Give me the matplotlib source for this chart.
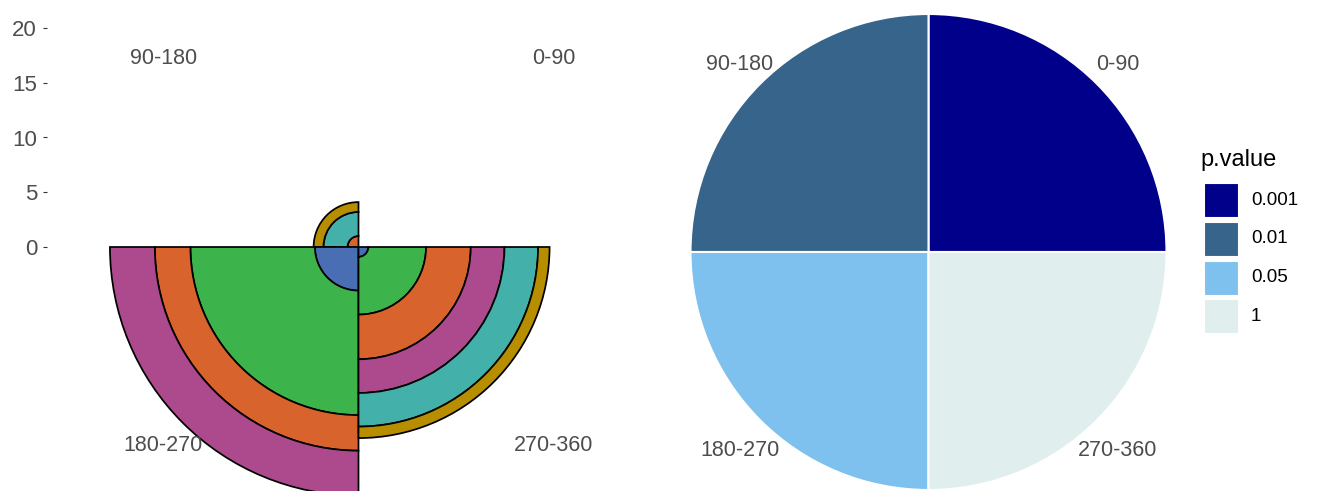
import matplotlib.pyplot as plt
from matplotlib.patches import Wedge, Rectangle
import numpy as np

plt.rcParams['font.family'] = ['Liberation Sans', 'DejaVu Sans']

# angular sectors (degrees, counter-clockwise from east)
sectors = ['0-90', '90-180', '180-270', '270-360']
angle_lo = [0, 90, 180, 270]
angle_hi = [90, 180, 270, 360]

# stacked radial layers per sector, innermost first
blue = [0, 0, 3.98, 0.9]
green = [0, 0, 11.37, 5.27]
orange = [0, 1.0, 3.25, 4.08]
purple = [0, 0, 4.1, 3.08]
teal = [0, 2.2, 0, 3.07]
gold = [0, 0.9, 0, 1.05]
layers = [blue, green, orange, purple, teal, gold]
layer_colors = ['#4a6eb4', '#3cb44b', '#d9632d', '#ad4a8d', '#43b1a9', '#b68e00']

# p-value per sector
pvals = [0.001, 0.01, 0.05, 1]
p_levels = ['0.001', '0.01', '0.05', '1']
p_colors = ['#00008B', '#36648B', '#7EC0EE', '#E0EEEE']

W, H = 1318, 491
fig = plt.figure(figsize=(W / 100, H / 100), dpi=100)
axis_grey = '#4d4d4d'

# ---- left: stacked polar bars ----
ppu = 10.95          # pixels per radial unit
cx, cy = 358.5, 247  # centre in figure pixels (from top)
x0, x1 = 47, 670
ax = fig.add_axes([x0 / W, 0, (x1 - x0) / W, 1])
ax.set_xlim((x0 - cx) / ppu, (x1 - cx) / ppu)
ax.set_ylim(-(H - cy) / ppu, cy / ppu)

for i in range(len(sectors)):
    base = 0
    for vals, col in zip(layers, layer_colors):
        h = vals[i]
        if h <= 0:
            continue
        ax.add_patch(Wedge((0, 0), base + h, angle_lo[i], angle_hi[i], width=h,
                           facecolor=col, edgecolor='black', linewidth=1.25))
        base += h

lab_rx, lab_ry = 25.2, 25.0
drop = 0.44
for s, lo, hi in zip(sectors, angle_lo, angle_hi):
    a = np.deg2rad((lo + hi) / 2)
    ax.text(lab_rx * np.cos(a), lab_ry * np.sin(a) - drop, s, ha='center', va='center',
            fontsize=15.5, color=axis_grey)

ax.set_yticks([0, 5, 10, 15, 20])
ax.set_xticks([])
ax.tick_params(axis='y', length=2.9, width=0.8, color='#333333', labelcolor=axis_grey,
               labelsize=16, pad=4.3)
for sp in ax.spines.values():
    sp.set_visible(False)

# ---- right: pie coloured by p-value ----
R = 238.0
pcx, pcy = 928.5, 252
px0, px1 = 680, 1180
ax2 = fig.add_axes([px0 / W, 0, (px1 - px0) / W, 1])
sizes = [hi - lo for lo, hi in zip(angle_lo, angle_hi)]
col_of = dict(zip(pvals, p_colors))
ax2.pie(sizes, colors=[col_of[p] for p in pvals], startangle=angle_lo[0], counterclock=True,
        radius=1, wedgeprops=dict(edgecolor='white', linewidth=1.5))
ax2.set_aspect('auto')
ax2.set_xlim((px0 - pcx) / R, (px1 - pcx) / R)
ax2.set_ylim(-(H - pcy) / R, pcy / R)
ax2.axis('off')

pie_rx, pie_ry = 1.123, 1.1455
for s, lo, hi in zip(sectors, angle_lo, angle_hi):
    a = np.deg2rad((lo + hi) / 2)
    ax2.text(pie_rx * np.cos(a), pie_ry * np.sin(a) - 0.0234, s, ha='center', va='center',
             fontsize=15.5, color=axis_grey)

# ---- legend ----
lg = fig.add_axes([0, 0, 1, 1], facecolor='none')
lg.set_xlim(0, W)
lg.set_ylim(H, 0)
lg.axis('off')
lg.text(1200, 160, 'p.value', fontsize=17, color='black', ha='left', va='center')
key, step, top = 34, 38.6, 183.3
for i, (lev, col) in enumerate(zip(p_levels, p_colors)):
    y = top + i * step
    lg.add_patch(Rectangle((1204, y), key, key, facecolor=col, edgecolor='white', linewidth=0.8))
    lg.text(1251, y + key / 2, lev, fontsize=13.6, color='black', ha='left', va='center')

fig.savefig('out.png', dpi=100)
